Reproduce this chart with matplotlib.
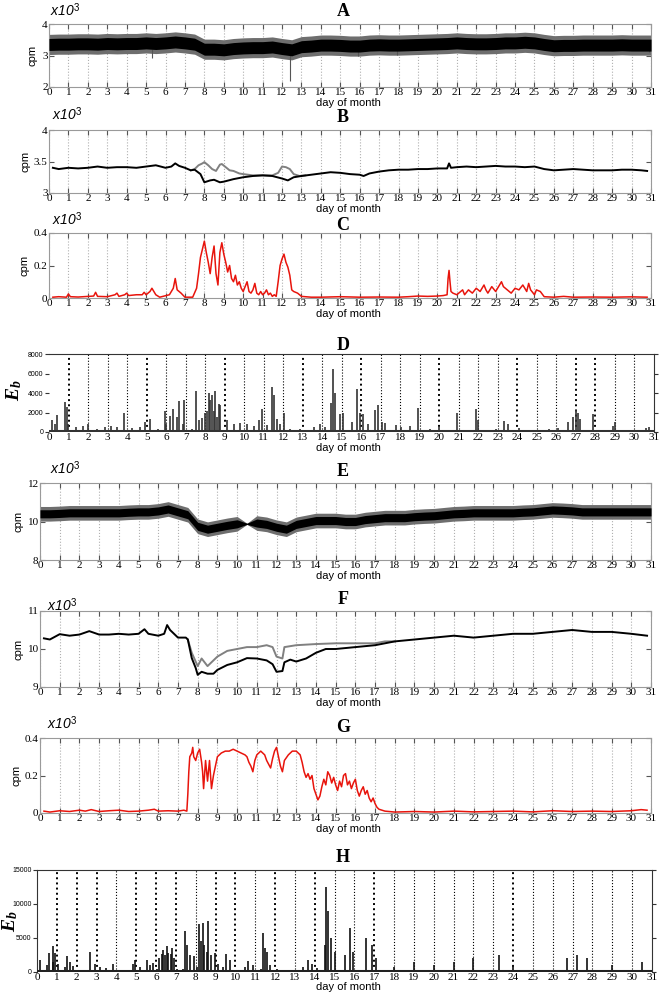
import numpy as np
import matplotlib.pyplot as plt

plt.rcParams['mathtext.fontset'] = 'custom'
plt.rcParams['mathtext.it'] = 'Liberation Serif:bold:italic'
plt.rcParams['mathtext.rm'] = 'Liberation Serif:bold'
plt.rcParams['mathtext.sf'] = 'Liberation Sans'

W, H = 660, 992
days = list(range(32))

# ---- A: count rate, station 1 (x10^3 cpm), half-day steps
a_x = np.arange(0, 31.01, 0.5)
a_mid = [3.35, 3.36, 3.36, 3.37, 3.37, 3.36, 3.38, 3.37, 3.38, 3.38,
         3.40, 3.38, 3.40, 3.43, 3.40, 3.36, 3.20, 3.20, 3.18, 3.22,
         3.24, 3.25, 3.25, 3.27, 3.22, 3.18, 3.28, 3.30, 3.33, 3.33,
         3.32, 3.30, 3.30, 3.33, 3.34, 3.33, 3.33, 3.34, 3.35, 3.36,
         3.37, 3.38, 3.40, 3.38, 3.37, 3.37, 3.38, 3.40, 3.40, 3.42,
         3.40, 3.35, 3.31, 3.32, 3.32, 3.33, 3.33, 3.33, 3.33, 3.34,
         3.33, 3.33, 3.33]
a_dips_x = [5.3, 12.4, 15.9, 17.9, 30.9]
a_dips_y = [2.92, 2.2, 3.0, 3.02, 3.1]

# ---- B: smoothed count rate (black) and raw (grey)
b_x = [0.2, 0.5, 1, 1.5, 2, 2.5, 3, 3.5, 4, 4.5,
       5, 5.5, 6, 6.3, 6.5, 6.7, 7, 7.3, 7.5, 7.8,
       8, 8.3, 8.5, 8.8, 9, 9.5, 10, 10.5, 11, 11.5,
       12, 12.3, 12.6, 13, 13.5, 14, 14.5, 15, 15.5, 16,
       16.2, 16.5, 17, 17.5, 18, 18.5, 19, 19.5, 20, 20.5,
       20.6, 20.7, 21, 21.5, 22, 22.5, 23, 23.5, 24, 24.5,
       25, 25.5, 26, 26.5, 27, 27.5, 28, 28.5, 29, 29.5,
       30, 30.5, 30.8]
b_y = [3.40, 3.38, 3.40, 3.39, 3.40, 3.42, 3.40, 3.41, 3.41, 3.40,
       3.42, 3.44, 3.40, 3.42, 3.47, 3.43, 3.40, 3.36, 3.37, 3.30,
       3.17, 3.20, 3.21, 3.17, 3.18, 3.22, 3.25, 3.27, 3.28, 3.27,
       3.23, 3.20, 3.25, 3.27, 3.29, 3.31, 3.33, 3.32, 3.30, 3.29,
       3.27, 3.31, 3.34, 3.36, 3.37, 3.37, 3.38, 3.38, 3.39, 3.39,
       3.47, 3.40, 3.41, 3.42, 3.41, 3.42, 3.43, 3.42, 3.42, 3.41,
       3.42, 3.38, 3.36, 3.37, 3.38, 3.37, 3.36, 3.36, 3.36, 3.37,
       3.37, 3.36, 3.35]
bg_x = [7.3, 7.5, 7.7, 7.9, 8.0, 8.2, 8.4, 8.6, 8.8, 8.9,
        9.1, 9.3, 9.5, 9.8, 10, 10.5, 11, 11.5, 11.8, 12,
        12.2, 12.4, 12.6, 12.9, 13.2]
bg_y = [3.36, 3.38, 3.44, 3.47, 3.49, 3.44, 3.38, 3.35, 3.45, 3.46,
        3.41, 3.36, 3.35, 3.31, 3.30, 3.28, 3.28, 3.28, 3.32, 3.42,
        3.41, 3.38, 3.30, 3.27, 3.28]

# ---- C: difference (x10^3 cpm)
c_x = [0.2, 0.5, 0.9, 1.0, 1.1, 1.5, 2.0, 2.3, 2.4, 2.5,
       3.0, 3.4, 3.5, 3.6, 3.9, 4.0, 4.1, 4.5, 4.8, 4.9,
       5.0, 5.2, 5.3, 5.4, 5.5, 5.7, 6.2, 6.4, 6.5, 6.6,
       6.8, 7.0, 7.4, 7.6, 7.7, 7.8, 7.9, 8.0, 8.1, 8.2,
       8.3, 8.4, 8.5, 8.6, 8.7, 8.8, 8.9, 9.0, 9.1, 9.2,
       9.3, 9.4, 9.5, 9.6, 9.7, 9.8, 9.9, 10.0, 10.1, 10.2,
       10.3, 10.4, 10.5, 10.6, 10.7, 10.8, 10.9, 11.0, 11.1, 11.2,
       11.3, 11.4, 11.5, 11.6, 11.7, 11.8, 11.9, 12.0, 12.1, 12.2,
       12.3, 12.4, 12.5, 12.6, 12.8, 13.0, 13.5, 14, 15, 16,
       17, 18, 18.5, 19, 19.5, 20, 20.3, 20.5, 20.55, 20.6,
       20.65, 20.7, 20.8, 21.0, 21.2, 21.3, 21.4, 21.6, 21.8, 22.0,
       22.2, 22.4, 22.5, 22.6, 22.8, 23.0, 23.2, 23.3, 23.4, 23.6,
       23.8, 24.0, 24.2, 24.4, 24.6, 24.7, 24.8, 25.0, 25.1, 25.3,
       25.5, 26, 26.5, 27, 28, 29, 30, 30.8]
c_y = [0.005, 0.008, 0.005, 0.025, 0.008, 0.006, 0.010, 0.012, 0.035, 0.010,
       0.008, 0.020, 0.030, 0.010, 0.020, 0.030, 0.015, 0.020, 0.020, 0.035,
       0.020, 0.040, 0.060, 0.040, 0.020, 0.005, 0.020, 0.060, 0.120, 0.050,
       0.030, 0.005, 0.005, 0.060, 0.150, 0.250, 0.300, 0.350, 0.280, 0.220,
       0.150, 0.250, 0.320, 0.150, 0.080, 0.280, 0.340, 0.270, 0.220, 0.160,
       0.200, 0.120, 0.100, 0.140, 0.080, 0.100, 0.060, 0.040, 0.070, 0.100,
       0.040, 0.030, 0.050, 0.090, 0.030, 0.020, 0.040, 0.020, 0.030, 0.050,
       0.020, 0.030, 0.010, 0.020, 0.010, 0.100, 0.200, 0.240, 0.270, 0.220,
       0.190, 0.140, 0.050, 0.040, 0.030, 0.010, 0.005, 0.005, 0.008, 0.005,
       0.006, 0.005, 0.008, 0.012, 0.010, 0.012, 0.015, 0.020, 0.120, 0.170,
       0.100, 0.040, 0.030, 0.020, 0.040, 0.050, 0.020, 0.050, 0.030, 0.060,
       0.040, 0.080, 0.050, 0.030, 0.070, 0.040, 0.080, 0.100, 0.070, 0.050,
       0.030, 0.060, 0.050, 0.080, 0.040, 0.090, 0.050, 0.020, 0.050, 0.040,
       0.008, 0.005, 0.010, 0.005, 0.006, 0.005, 0.007, 0.005]

# ---- D: E_b spikes (day, value)
d_x = [0.13, 0.3, 0.43, 0.82, 0.9, 0.99, 1.4, 1.76, 1.98, 2.44,
       2.87, 3.2, 3.5, 3.86, 4.24, 4.67, 4.92, 5.15, 5.6, 5.95,
       6.0, 6.2, 6.34, 6.55, 6.67, 6.85, 6.92, 7.32, 7.54, 7.67,
       7.84, 8.0, 8.1, 8.18, 8.27, 8.35, 8.44, 8.52, 8.6, 8.7,
       8.78, 9.12, 9.46, 9.8, 10.15, 10.5, 10.74, 10.9, 11.17, 11.42,
       11.54, 11.68, 11.85, 12.02, 12.37, 12.88, 13.56, 13.9, 14.15, 14.45,
       14.55, 14.65, 14.92, 15.09, 15.52, 15.8, 15.95, 16.1, 16.37, 16.7,
       16.88, 17.05, 17.2, 17.8, 18.05, 18.5, 18.93, 19.5, 20.0, 20.9,
       21.87, 22.0, 22.9, 23.3, 23.5, 24.1, 24.6, 25.6, 26.1, 26.6,
       26.85, 27.0, 27.1, 27.2, 27.85, 28.3, 28.9, 29.0, 29.9, 30.6,
       30.75]
d_y = [1200, 800, 1700, 3100, 2600, 800, 500, 600, 800, 300,
       500, 600, 500, 2000, 400, 500, 1000, 1300, 300, 2200,
       800, 1600, 2400, 1500, 3200, 800, 3300, 300, 4200, 1200,
       1400, 2000, 2200, 4000, 3300, 3800, 2200, 4200, 1500, 2900,
       2800, 1200, 800, 900, 800, 600, 1200, 2400, 700, 4600,
       3800, 1300, 800, 2000, 300, 300, 500, 800, 500, 3000,
       6500, 4000, 1800, 2000, 1000, 4400, 2000, 1800, 800, 2300,
       2800, 1000, 900, 700, 500, 600, 2500, 300, 500, 1900,
       2400, 1200, 300, 1100, 800, 400, 200, 300, 400, 1000,
       1500, 2300, 2000, 1300, 1800, 200, 600, 1000, 200, 400,
       500]

# ---- E: count rate, station 2 (x10^3 cpm), half-day steps
e_x = np.arange(0, 31.01, 0.5)
e_mid = [10.40, 10.40, 10.42, 10.45, 10.45, 10.45, 10.45, 10.45, 10.45, 10.48,
         10.50, 10.50, 10.55, 10.65, 10.50, 10.35, 9.75, 9.60, 9.70, 9.80,
         9.88, 9.88, 9.92, 9.85, 9.70, 9.60, 9.85, 9.95, 10.05, 10.05,
         10.05, 10.00, 10.00, 10.10, 10.15, 10.20, 10.20, 10.20, 10.25, 10.28,
         10.30, 10.35, 10.40, 10.42, 10.45, 10.45, 10.45, 10.45, 10.45, 10.48,
         10.50, 10.55, 10.60, 10.58, 10.55, 10.50, 10.50, 10.50, 10.50, 10.50,
         10.50, 10.50, 10.50]
e_gap = [10.0, 10.6]

# ---- F: smoothed (black) and raw (grey)
f_x = [0.2, 0.5, 1, 1.5, 2, 2.5, 3, 3.5, 4, 4.5,
       5, 5.3, 5.5, 6, 6.3, 6.45, 6.6, 7, 7.4, 7.5,
       7.7, 7.9, 8.0, 8.2, 8.5, 8.8, 9, 9.5, 10, 10.5,
       11, 11.5, 11.8, 12, 12.3, 12.4, 12.7, 13, 13.5, 14,
       14.5, 15, 16, 17, 18, 19, 20, 21, 22, 23,
       24, 25, 26, 27, 28, 29, 30, 30.8]
f_y = [10.28, 10.25, 10.39, 10.35, 10.38, 10.47, 10.38, 10.38, 10.40, 10.38,
       10.40, 10.52, 10.40, 10.35, 10.40, 10.63, 10.50, 10.30, 10.30, 10.25,
       9.76, 9.50, 9.32, 9.40, 9.35, 9.35, 9.45, 9.58, 9.65, 9.76,
       9.75, 9.70, 9.60, 9.40, 9.42, 9.65, 9.72, 9.67, 9.75, 9.90,
       10.00, 10.00, 10.05, 10.10, 10.20, 10.25, 10.30, 10.35, 10.30, 10.35,
       10.40, 10.40, 10.45, 10.50, 10.45, 10.45, 10.40, 10.35]
fg_x = [7.5, 7.7, 8.0, 8.2, 8.5, 8.8, 9, 9.5, 10, 10.5,
        11, 11.5, 11.8, 12, 12.3, 12.4, 13, 14, 15, 16,
        17, 17.5, 18]
fg_y = [10.25, 9.90, 9.55, 9.75, 9.55, 9.70, 9.80, 9.95, 10.00, 10.05,
        10.05, 10.10, 10.05, 9.80, 9.75, 10.05, 10.10, 10.13, 10.15, 10.15,
        10.15, 10.20, 10.20]

# ---- G: difference (x10^3 cpm)
g_x = [0.2, 0.5, 1.0, 1.5, 2.0, 2.3, 2.6, 3.0, 3.5, 4.0,
       4.5, 5.0, 5.5, 5.8, 6.0, 6.5, 7.0, 7.3, 7.45, 7.5,
       7.55, 7.6, 7.7, 7.75, 7.8, 7.9, 8.0, 8.1, 8.2, 8.25,
       8.3, 8.4, 8.5, 8.6, 8.7, 8.8, 8.9, 9.0, 9.2, 9.4,
       9.6, 9.8, 10.0, 10.2, 10.4, 10.5, 10.6, 10.7, 10.8, 10.9,
       11.0, 11.2, 11.4, 11.5, 11.6, 11.7, 11.8, 11.9, 12.0, 12.1,
       12.2, 12.3, 12.4, 12.6, 12.8, 13.0, 13.2, 13.3, 13.4, 13.5,
       13.6, 13.7, 13.8, 13.9, 14.0, 14.1, 14.2, 14.3, 14.4, 14.5,
       14.6, 14.7, 14.8, 14.9, 15.0, 15.1, 15.2, 15.3, 15.4, 15.5,
       15.6, 15.7, 15.8, 15.9, 16.0, 16.1, 16.2, 16.3, 16.4, 16.5,
       16.6, 16.7, 16.8, 16.9, 17.0, 17.1, 17.2, 17.5, 18, 19,
       20, 21, 22, 23, 24, 25, 26, 27, 28, 29,
       30, 30.5, 30.8]
g_y = [0.010, 0.005, 0.012, 0.008, 0.015, 0.010, 0.018, 0.008, 0.012, 0.015,
       0.008, 0.010, 0.015, 0.020, 0.010, 0.012, 0.010, 0.015, 0.010, 0.100,
       0.220, 0.300, 0.320, 0.350, 0.300, 0.280, 0.320, 0.340, 0.270, 0.220,
       0.130, 0.280, 0.170, 0.280, 0.130, 0.200, 0.250, 0.300, 0.320, 0.330,
       0.330, 0.340, 0.330, 0.320, 0.310, 0.300, 0.270, 0.250, 0.220, 0.280,
       0.310, 0.330, 0.310, 0.280, 0.260, 0.240, 0.290, 0.330, 0.350, 0.300,
       0.250, 0.220, 0.280, 0.310, 0.330, 0.330, 0.310, 0.270, 0.220, 0.190,
       0.210, 0.180, 0.200, 0.130, 0.100, 0.070, 0.090, 0.140, 0.180, 0.150,
       0.220, 0.200, 0.160, 0.190, 0.150, 0.120, 0.170, 0.140, 0.200, 0.210,
       0.150, 0.170, 0.130, 0.160, 0.180, 0.120, 0.090, 0.120, 0.140, 0.100,
       0.120, 0.080, 0.060, 0.080, 0.050, 0.030, 0.020, 0.010, 0.005, 0.008,
       0.005, 0.010, 0.006, 0.008, 0.010, 0.006, 0.012, 0.008, 0.010, 0.008,
       0.012, 0.018, 0.015]

# ---- H: E_b spikes (day, value)
h_x = [0.15, 0.49, 0.6, 0.79, 0.82, 0.9, 1.07, 1.41, 1.5, 1.66,
       1.83, 2.67, 2.92, 3.17, 3.5, 3.85, 4.35, 4.85, 4.94, 5.19,
       5.53, 5.7, 5.86, 6.03, 6.17, 6.28, 6.37, 6.45, 6.53, 6.62,
       6.73, 6.83, 6.9, 7.07, 7.38, 7.46, 7.54, 7.71, 7.93, 8.05,
       8.17, 8.27, 8.35, 8.43, 8.55, 8.64, 8.75, 8.97, 9.14, 9.39,
       9.53, 9.73, 10.48, 10.65, 10.87, 11.27, 11.41, 11.5, 11.58, 11.75,
       12.08, 12.75, 13.42, 13.67, 13.84, 14.1, 14.5, 14.56, 14.68, 14.8,
       15.0, 15.5, 15.8, 15.95, 16.6, 16.9, 17.1, 18.0, 19.0, 20.0,
       21.0, 22.0, 23.3, 24.0, 26.7, 27.2, 27.7, 29.0, 30.5]
h_y = [1800, 1000, 2800, 1500, 3800, 2800, 1200, 700, 2300, 1500,
       900, 3000, 1200, 800, 600, 1200, 300, 1200, 1700, 700,
       1800, 1000, 1300, 500, 2000, 2600, 3300, 2500, 3800, 2800,
       2700, 3600, 2000, 500, 500, 6000, 4000, 2500, 2400, 800,
       7100, 4500, 7200, 4000, 3000, 7500, 2500, 2800, 1200, 800,
       2600, 1800, 700, 1600, 1000, 500, 5800, 3500, 3000, 1000,
       500, 300, 800, 1800, 1200, 600, 4000, 12500, 9000, 5000,
       3000, 2500, 6500, 3000, 5000, 4000, 2000, 800, 1500, 1000,
       1500, 2000, 2500, 1000, 2000, 2500, 2000, 1000, 1500]

fig = plt.figure(figsize=(W / 100, H / 100), dpi=100)


def add_ax(l, t, r, b):
    return fig.add_axes([l / W, 1 - b / H, (r - l) / W, (b - t) / H])


serif = 'Liberation Serif'
sans = 'Liberation Sans'


def cpm_style(ax, yticks, ylab_x, title_y, title, xlab_y, x10_xy=None):
    ax.set_xlim(0, 31)
    ax.set_ylim(yticks[0], yticks[-1])
    ax.set_xticks(days)
    ax.set_yticks(yticks)
    ax.set_xticklabels([str(d) for d in days], family=serif, fontsize=8)
    ax.set_yticklabels([('%g' % v) for v in yticks], family=serif, fontsize=8)
    ax.tick_params(direction='in', top=True, right=True, length=3.5,
                   width=0.8, color='#555', pad=1)
    ax.grid(axis='x', linestyle=':', color='#b0b0b0', lw=0.8)
    for s in ax.spines.values():
        s.set_color('#9a9a9a')
    bb = ax.get_position()
    fig.text(ylab_x / W, bb.y0 + bb.height / 2, 'cpm', rotation=90,
             ha='center', va='center', family=sans, fontsize=8)
    fig.text(343 / W, 1 - title_y / H, title, ha='center', va='center',
             family=serif, fontweight='bold', fontsize=13)
    fig.text(348 / W, 1 - xlab_y / H, 'day of month', ha='center',
             va='center', family=sans, fontsize=8)
    if x10_xy:
        fig.text(x10_xy[0] / W, 1 - x10_xy[1] / H, r'x10$^{\mathsf{3}}$',
                 ha='left', va='center', family=sans, style='italic',
                 fontsize=10)


def eb_style(ax, yticks, ylabels, ylab_xy, title_y, title, xlab_y, thick):
    ax.set_xlim(0, 31)
    ax.set_ylim(0, yticks[-1])
    ax.set_xticks(days)
    ax.set_xticklabels([str(d) for d in days], family=serif, fontsize=8)
    ax.set_yticks(yticks)
    ax.set_yticklabels(ylabels, family=sans, fontsize=5)
    ax.tick_params(axis='x', length=0, pad=0.5)
    ax.tick_params(axis='y', direction='out', length=3, width=0.8,
                   right=True, color='#333', pad=1)
    for d in days[1:31]:
        ax.axvline(d, color='k', linestyle=':', lw=1.4 if d in thick else 0.8,
                   zorder=1)
    for s in ('left', 'bottom'):
        ax.spines[s].set_visible(False)
    for s in ('top', 'right'):
        ax.spines[s].set_color('#333')
    fig.text(ylab_xy[0] / W, 1 - ylab_xy[1] / H, r'$E_b$', rotation=90,
             ha='center', va='center', fontsize=14)
    fig.text(343 / W, 1 - title_y / H, title, ha='center', va='center',
             family=serif, fontweight='bold', fontsize=13)
    fig.text(348 / W, 1 - xlab_y / H, 'day of month', ha='center',
             va='center', family=sans, fontsize=8)


# A
ax = add_ax(49, 24, 651, 87)
ax.fill_between(a_x, np.array(a_mid) - 0.32, np.array(a_mid) + 0.32,
                color='#6e6e6e', lw=0, zorder=2)
ax.fill_between(a_x, np.array(a_mid) - 0.19, np.array(a_mid) + 0.19,
                color='k', lw=0, zorder=3)
ax.vlines(a_dips_x, a_dips_y, 3.2, color='#555', lw=0.8, zorder=2)
cpm_style(ax, [2, 3, 4], 32, 12, 'A', 103, (50, 10))

# B
ax = add_ax(49, 130, 651, 193)
ax.plot(bg_x, bg_y, color='#808080', lw=1.4, zorder=2)
ax.plot(b_x, b_y, color='k', lw=1.4, zorder=3)
cpm_style(ax, [3, 3.5, 4], 26, 118, 'B', 209, (52, 114))

# C
ax = add_ax(49, 233, 651, 298)
ax.plot(c_x, c_y, color='#e8140c', lw=1.1, zorder=3)
cpm_style(ax, [0, 0.2, 0.4], 24, 225, 'C', 314, (52, 219))

# D
ax = add_ax(49, 354, 654, 432)
ax.vlines(d_x, 0, d_y, color='#333', lw=1.2, zorder=3)
ax.axhline(120, color='#333', lw=2.2, zorder=3)
eb_style(ax, [0, 2000, 4000, 6000, 8000],
         ['0', '2000', '4000', '6000', '8000'], (14, 390), 345, 'D', 448,
         [1, 5, 9, 13, 16, 20, 24, 27, 28])

# E
ax = add_ax(40, 483, 651, 560)
e_mid = np.array(e_mid)
in_gap = (e_x > e_gap[0]) & (e_x < e_gap[1])
outer = np.where(in_gap, 0.03, 0.38)
inner = np.where(in_gap, 0.03, 0.21)
ax.fill_between(e_x, e_mid - outer, e_mid + outer, color='#6e6e6e', lw=0,
                zorder=2)
ax.fill_between(e_x, e_mid - inner, e_mid + inner, color='k', lw=0, zorder=3)
cpm_style(ax, [8, 10, 12], 18, 472, 'E', 576, (50, 468))

# F
ax = add_ax(40, 611, 651, 687)
ax.plot(fg_x, fg_y, color='#808080', lw=1.4, zorder=2)
ax.plot(f_x, f_y, color='k', lw=1.4, zorder=3)
cpm_style(ax, [9, 10, 11], 18, 600, 'F', 703, (47, 605))

# G
ax = add_ax(40, 738, 651, 813)
ax.plot(g_x, g_y, color='#e8140c', lw=1.1, zorder=3)
cpm_style(ax, [0, 0.2, 0.4], 16, 727, 'G', 829, (47, 723))

# H
ax = add_ax(37, 870, 652, 972)
ax.vlines(h_x, 0, h_y, color='#111', lw=1.2, zorder=3)
ax.axhline(150, color='#222', lw=2.2, zorder=3)
eb_style(ax, [0, 5000, 10000, 15000], ['0', '5000', '10000', '15000'],
         (10, 921), 858, 'H', 987, [1, 2, 3, 5, 6, 7, 9, 10, 12, 14, 17, 24])
ax.spines['left'].set_visible(True)
ax.spines['left'].set_color('#333')

fig.savefig('out.png', dpi=100)
